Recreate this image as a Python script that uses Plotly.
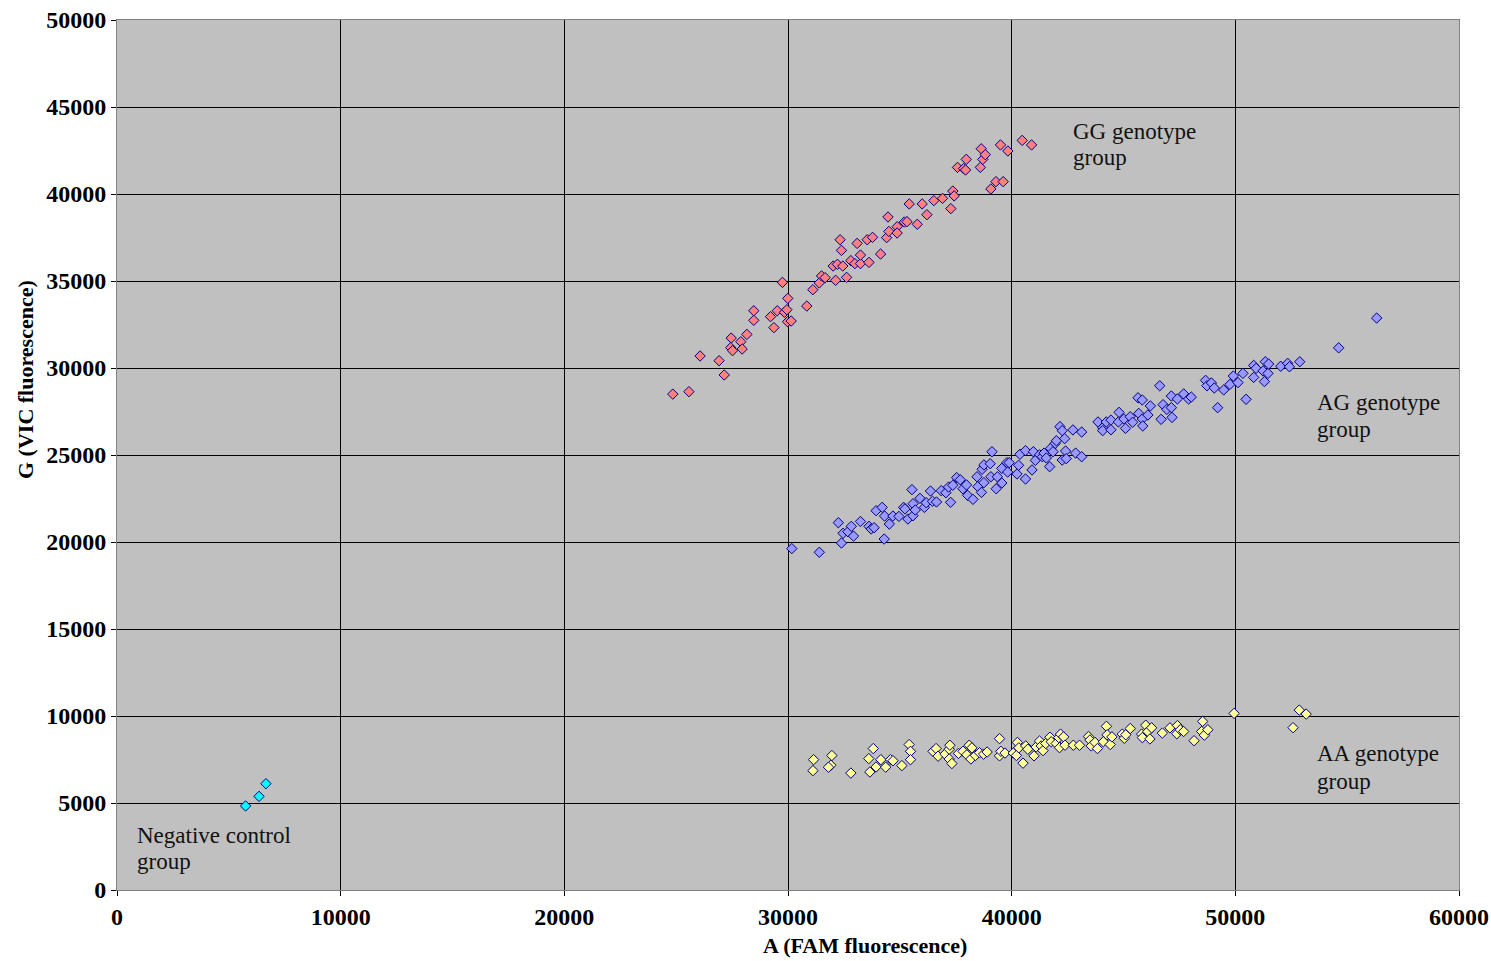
import plotly.graph_objects as go

# GG genotype group
gg_x = [24850, 25570, 26070, 26920, 27150, 27460, 27440, 27520, 27890, 27950, 28160, 28470, 28470,
        29220, 29370, 29520, 29750, 29840, 29950, 29990, 29980, 30140, 30840, 31110, 31400, 31500,
        31660, 32130, 32020, 32210, 32450, 32330, 32390, 32620, 32810, 32990, 33240, 33240, 33090,
        33540, 33620, 33780, 34140, 34410, 34470, 34510, 34880, 34880, 35200, 35320, 35420, 35780,
        36000, 36210, 36520, 36910, 37280, 37370, 37430, 37580, 37850, 37940, 37970, 38600, 38640,
        38710, 38820, 39070, 39300, 39620, 39500, 39830, 40470, 40890]
gg_y = [28500, 28640, 30690, 30420, 29600, 31720, 31170, 31000, 31510, 31090, 31930, 33290, 32740,
        32950, 32320, 33290, 34920, 33200, 33350, 34000, 32660, 32700, 33560, 34500, 34890, 35290,
        35190, 35040, 35860, 35960, 35860, 37370, 36760, 35210, 36170, 36000, 36000, 36490, 37160,
        37370, 36070, 37510, 36550, 37490, 38680, 37850, 38120, 37760, 38390, 38410, 39430, 38260,
        39430, 38810, 39620, 39750, 39160, 40170, 39890, 41530, 41460, 41380, 41990, 41530, 42600,
        41990, 42260, 40290, 40710, 40710, 42820, 42470, 43080, 42820]

# AG genotype group
ag_x = [30170, 31400, 32250, 32390, 32460, 32680, 32830, 32930, 33240, 33620, 33720, 33850, 33940,
        34210, 34300, 34320, 34530, 34690, 34960, 35170, 35230, 35360, 35540, 35590, 35590, 35690,
        35900, 36100, 36180, 36370, 36460, 36640, 36850, 37060, 37180, 37270, 37370, 37540, 37700,
        37820, 37980, 38030, 38270, 38450, 38490, 38650, 38680, 38760, 38760, 39040, 39120, 39070,
        39310, 39360, 39560, 39560, 39790, 39820, 39890, 40240, 40310, 40370, 40620, 40620, 40910,
        40970, 41060, 41250, 41370, 41450, 41550, 41700, 41740, 41850, 41950, 42000, 42160, 42260,
        42370, 42410, 42260, 42440, 42740, 42860, 43130, 43130, 43860, 44070, 44070, 44230, 44440,
        44440, 44800, 44770, 45020, 45090, 45300, 45410, 45650, 45840, 45680, 45840, 45860, 46090,
        46200, 46620, 46680, 46770, 46940, 47140, 47140, 47170, 47410, 47690, 47910, 48030, 48670,
        48730, 48930, 49060, 49210, 49480, 49760, 49910, 50120, 50340, 50480, 50820, 50820, 50930,
        51240, 51300, 51340, 51460, 51490, 52030, 52340, 52420, 52880, 54620, 56320]
ag_y = [19620, 19410, 21110, 19940, 20500, 20590, 20900, 20340, 21180, 20900, 20750, 20820, 21800,
        21990, 20170, 21490, 21030, 21490, 21470, 21990, 21900, 21320, 23010, 22200, 21510, 21840,
        22510, 21990, 22260, 22930, 22340, 22300, 22950, 22830, 23160, 22280, 23260, 23700, 23580,
        23060, 23280, 22680, 22450, 23750, 23180, 22850, 24180, 24430, 23410, 24500, 25190, 23750,
        23060, 23750, 24230, 23390, 24560, 24020, 24560, 23910, 24410, 25040, 23620, 25250, 24140,
        25190, 24690, 25010, 24900, 25110, 24830, 24330, 25380, 25190, 25670, 25820, 26630, 26400,
        25940, 25230, 24710, 24790, 26440, 25110, 26320, 24900, 26900, 26570, 26400, 26900, 27010,
        26450, 27450, 26900, 27070, 26530, 27200, 26880, 28290, 28160, 27390, 27070, 26670, 27300,
        27820, 28980, 27050, 27890, 27620, 28390, 27720, 27160, 28220, 28510, 28220, 28330, 29290,
        28980, 29140, 28850, 27720, 28740, 29060, 29540, 29160, 29690, 28200, 30150, 29460, 29980,
        29830, 29220, 30360, 29690, 30230, 30100, 30270, 30070, 30360, 31160, 32870]

# AA genotype group
aa_x = [31145, 31116, 31962, 31917, 31810, 32811, 33813, 33612, 33661, 33938, 34153, 34368, 34582,
        34694, 35092, 35418, 35477, 35477, 36483, 36621, 36711, 37019, 37207, 37238, 37207, 37328,
        37623, 37824, 37994, 38101, 38222, 38177, 38379, 38562, 38745, 38902, 39457, 39457, 39519,
        39703, 40074, 40257, 40212, 40320, 40507, 40628, 40722, 41000, 41093, 41245, 41321, 41402,
        41523, 41710, 41768, 41988, 42108, 42184, 42323, 42140, 42386, 42757, 43034, 43436, 43499,
        43557, 43727, 43835, 44098, 44237, 44268, 44407, 44483, 44948, 45037, 45100, 45301, 45811,
        45842, 45995, 46089, 46182, 46258, 46737, 47077, 47412, 47385, 47537, 47689, 48154, 48539,
        48494, 48615, 48772, 49943, 52582, 52859, 53168]
aa_y = [7490, 6860, 7730, 7170, 7060, 6720, 8130, 7550, 6780, 7070, 7490, 7060, 7490,
        7430, 7150, 8360, 7970, 7490, 7970, 8130, 7690, 7810, 8090, 8320, 7530, 7270,
        7850, 7970, 7770, 8320, 8170, 7530, 7730, 7890, 7810, 7930, 8700, 7710, 7970,
        7870, 7870, 8480, 7730, 8170, 7290, 8280, 8090, 7710, 8220, 8560, 8280, 8010,
        8420, 8780, 8520, 8420, 8760, 8960, 8800, 8180, 8320, 8320, 8320, 8820, 8620,
        8280, 8480, 8130, 8520, 9410, 8920, 8360, 8800, 8960, 8720, 8920, 9280, 8960,
        8760, 9470, 9110, 8680, 9320, 9020, 9320, 9450, 8980, 9210, 9110, 8580, 9690,
        9110, 8900, 9210, 10150, 9330, 10340, 10110]

# Negative control group
neg_x = [5750, 6350, 6660]
neg_y = [4830, 5380, 6110]

x_ticks = [0, 10000, 20000, 30000, 40000, 50000, 60000]
y_ticks = [0, 5000, 10000, 15000, 20000, 25000, 30000, 35000, 40000, 45000, 50000]

# group label lines (anchor x, line-centre y, text)
label_lines = [
    (42670, 43620, "GG genotype"), (42670, 42070, "group"),
    (53580, 27990, "AG genotype"), (53580, 26440, "group"),
    (53580, 7820, "AA genotype"), (53580, 6260, "group"),
    (800, 3160, "Negative control"), (800, 1610, "group"),
]

SERIF = "Liberation Serif, Times New Roman, serif"
NAVY = "#000080"

fig = go.Figure()

def add(xs, ys, fill, name):
    fig.add_trace(go.Scatter(
        x=xs, y=ys, mode="markers", name=name,
        marker=dict(symbol="diamond", size=8, color=fill,
                    line=dict(color=NAVY, width=1)),
    ))

add(gg_x, gg_y, "#FF8080", "GG")
add(ag_x, ag_y, "#9999FF", "AG")
add(aa_x, aa_y, "#FFFF99", "AA")
add(neg_x, neg_y, "#00FFFF", "Neg")

for lx, ly, txt in label_lines:
    fig.add_annotation(x=lx, y=ly, xref="x", yref="y", text=txt, showarrow=False,
                       xanchor="left", yanchor="middle", align="left",
                       font=dict(family=SERIF, size=23, color="#111111"))

W, H = 1491, 961
L, R, T, B = 117, 32, 20, 71
pw, ph = W - L - R, H - T - B

fig.add_annotation(x=(865 - L) / pw, y=(H - B - 945) / ph, xref="paper", yref="paper",
                   xanchor="center", yanchor="middle",
                   text="<b>A (FAM fluorescence)</b>",
                   showarrow=False, font=dict(family=SERIF, size=22, color="#000000"))
fig.add_annotation(x=(25 - L) / pw, y=(H - B - 380) / ph, xref="paper", yref="paper",
                   xanchor="center", yanchor="middle",
                   text="<b>G (VIC fluorescence)</b>", showarrow=False, textangle=-90,
                   font=dict(family=SERIF, size=22, color="#000000"))

fig.update_layout(
    width=W, height=H,
    margin=dict(l=L, r=R, t=T, b=B, autoexpand=False),
    paper_bgcolor="white", plot_bgcolor="#C0C0C0",
    showlegend=False,
    xaxis=dict(range=[0, 60000], tickvals=x_ticks, ticktext=[str(v) for v in x_ticks],
               showgrid=True, gridcolor="#000000", gridwidth=1, zeroline=False,
               showline=True, linecolor="#808080", linewidth=1, mirror=True,
               ticks="outside", ticklen=5, tickcolor="#000000", automargin=False,
               tickfont=dict(family=SERIF, size=24, color="#000000", weight="bold")),
    yaxis=dict(range=[0, 50000], tickvals=y_ticks, ticktext=[str(v) for v in y_ticks],
               showgrid=True, gridcolor="#000000", gridwidth=1, zeroline=False,
               showline=True, linecolor="#808080", linewidth=1, mirror=True,
               ticks="outside", ticklen=5, tickcolor="#000000", automargin=False,
               tickfont=dict(family=SERIF, size=24, color="#000000", weight="bold")),
)

fig.write_html("out.html")
